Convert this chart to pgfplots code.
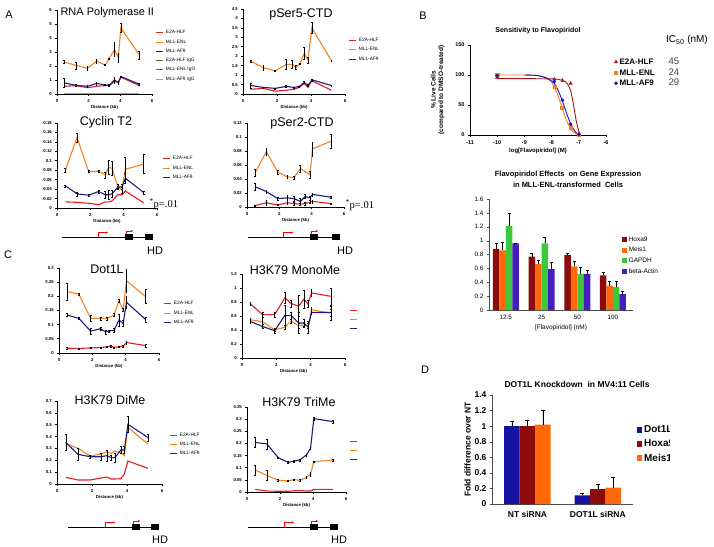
\documentclass[border=0pt]{standalone}
\usepackage{pgfplots}
\pgfplotsset{compat=1.18}
\usetikzlibrary{arrows.meta}
\usepackage{fontspec}
\setmainfont{Liberation Sans}
\newfontfamily\serif{Liberation Serif}

\definecolor{cR}{RGB}{232,28,36}
\definecolor{cO}{RGB}{242,132,36}
\definecolor{cB}{RGB}{30,30,130}
\definecolor{cIgA}{RGB}{120,80,40}
\definecolor{cIgB}{RGB}{140,70,150}
\definecolor{cIgC}{RGB}{70,200,220}
\definecolor{bHox}{RGB}{140,10,10}
\definecolor{bMeis}{RGB}{255,105,10}
\definecolor{bGap}{RGB}{60,200,60}
\definecolor{bAct}{RGB}{70,30,190}
\definecolor{dDot}{RGB}{20,20,160}
\definecolor{fR}{RGB}{170,20,20}
\definecolor{fO}{RGB}{245,125,40}
\definecolor{fB}{RGB}{20,20,200}

\newcommand{\tk}{\fontsize{4.3}{5}\selectfont\bfseries}
\pgfplotsset{
  base/.style={scale only axis, anchor=south west, clip=false,
    axis x line*=bottom, axis y line*=left,
    /pgf/number format/assume math mode=true,
    scaled y ticks=false, scaled x ticks=false},
  chip/.style={base,
    axis line style={line width=0.9pt},
    xmin=0, xmax=6, ymin=0, xtick={0,2,4,6},
    tick align=outside, major tick length=1.6pt,
    every tick/.style={black, line width=0.7pt},
    ticklabel style={font=\tk},
    yticklabel style={/pgf/number format/fixed, /pgf/number format/precision=3},
    xlabel={Distance (kb)},
    xlabel style={font=\tk, yshift=4pt},
    legend style={draw=none, fill=none, inner sep=0pt, outer sep=0pt,
      font=\fontsize{4.8}{5}\selectfont, anchor=north west, row sep=0.4pt,
      cells={anchor=west}},
    legend image code/.code={\draw[##1, line width=0.9pt] (0pt,0pt) -- (7pt,0pt);},
  },
  ln/.style={line width=1.1pt, mark=none},
  eb/.style={error bars/y dir=both, error bars/y explicit,
     error bars/error bar style={black, line width=0.45pt},
     error bars/error mark options={black, line width=0.45pt, rotate=90, mark size=0.9pt}},
}

\newcommand{\gene}[5]{%
  \draw[black, line width=0.5pt] (#2pt,-#1pt) -- (#5pt+8pt,-#1pt);
  \fill[black] (#4pt,-#1pt+3pt) rectangle (#4pt+8pt,-#1pt-3pt);
  \fill[black] (#5pt,-#1pt+3pt) rectangle (#5pt+8pt,-#1pt-3pt);
  \draw[red, line width=0.6pt, -{Stealth[length=2.2pt,width=2.2pt]}] (#3pt,-#1pt) -- (#3pt,-#1pt+4.5pt) -- (#3pt+10pt,-#1pt+4.5pt);
  \draw[red, line width=0.6pt, -{Stealth[length=2.2pt,width=2.2pt]}] (#4pt+1pt,-#1pt+3pt) -- (#4pt+1pt,-#1pt+6pt) -- (#4pt+8pt,-#1pt+6pt);
}
\newcommand{\icl}[2]{\makebox[49pt][l]{\fontsize{8}{8}\selectfont\bfseries #1}{\fontsize{9.5}{8}\selectfont\color{darkgray}#2}}

\begin{document}
\begin{tikzpicture}
\useasboundingbox (0,0) rectangle (714pt,-546pt);
\fill[white] (0,0) rectangle (714pt,-546pt);

% ---------------- A: RNA Polymerase II
\begin{axis}[chip, at={(57pt,-94pt)}, width=95pt, height=84pt, ymax=6, ytick={0,1,2,3,4,5,6},
  legend style={at={(1.042,0.78)}}]
\addplot[ln, cR] coordinates {(0.45,0.55) (1.2,0.6) (1.93,0.45) (2.5,0.55) (3.04,0.6) (3.3,0.6) (3.63,0.9) (3.88,0.85) (4.03,1.2) (5.2,0.6)};
\addplot[ln, cO, eb] coordinates {(0.45,2.28) +- (0,0.1) (1.2,2.05) +- (0,0.25) (1.93,1.84) +- (0,0.12) (2.5,2.35) +- (0,0.15) (3.04,2.07) +- (0,0.05) (3.3,2.54) +- (0,0.05) (3.63,3.18) +- (0,0.5) (3.88,2.6) +- (0,0.3) (4.03,4.73) +- (0,0.3) (5.2,2.78) +- (0,0.3)};
\addplot[ln, cB, eb] coordinates {(0.45,0.8) +- (0,0.3) (1.2,0.62) +- (0,0.05) (1.93,0.55) +- (0,0.05) (2.5,0.75) +- (0,0.12) (3.04,0.65) +- (0,0.05) (3.3,0.62) +- (0,0.05) (3.63,1.0) +- (0,0.2) (3.88,0.8) +- (0,0.1) (4.03,1.25) +- (0,0.05) (5.2,0.7) +- (0,0.1)};
\addplot[ln, cIgA] coordinates {(0.45,0.03) (1.2,0.03) (1.93,0.03) (2.5,0.03) (3.04,0.03) (3.3,0.03) (3.63,0.03) (3.88,0.03) (4.03,0.03) (5.2,0.03)};
\addplot[ln, cIgB] coordinates {(0.45,0.02) (1.2,0.02) (1.93,0.02) (2.5,0.02) (3.04,0.02) (3.3,0.02) (3.63,0.02) (3.88,0.02) (4.03,0.02) (5.2,0.02)};
\addplot[ln, cIgC] coordinates {(0.45,0.01) (1.2,0.01) (1.93,0.01) (2.5,0.01) (3.04,0.01) (3.3,0.01) (3.63,0.01) (3.88,0.01) (4.03,0.01) (5.2,0.01)};
\legend{E2A-HLF, MLL-ENL, MLL-AF9, E2A-HLF IgG, MLL-ENL IgG, MLL-AF9 IgG}
\end{axis}

% ---------------- A: pSer5-CTD
\begin{axis}[chip, at={(243pt,-94pt)}, width=102pt, height=85pt, ymax=4.5, ytick={0,0.5,1,1.5,2,2.5,3,3.5,4,4.5},
  legend style={at={(1.039,0.68)}}]
\addplot[ln, cR] coordinates {(0.45,0.25) (1.2,0.3) (1.9,0.15) (2.55,0.2) (3.0,0.25) (3.3,0.35) (3.6,0.55) (3.82,0.35) (4.05,0.7) (5.2,0.2)};
\addplot[ln, cO, eb] coordinates {(0.45,1.74) +- (0,0.05) (1.2,1.39) +- (0,0.12) (1.9,1.23) +- (0,0.05) (2.55,1.57) +- (0,0.25) (2.9,1.57) +- (0,0.2) (3.1,1.4) +- (0,0.1) (3.35,1.6) +- (0,0.05) (3.6,2.15) +- (0,0.3) (3.82,1.8) +- (0,0.15) (4.05,3.5) +- (0,0.3) (5.2,1.76) +- (0,0.05)};
\addplot[ln, cB, eb] coordinates {(0.45,0.45) +- (0,0.12) (1.2,0.35) +- (0,0.03) (1.9,0.3) +- (0,0.03) (2.55,0.4) +- (0,0.05) (3.0,0.35) +- (0,0.03) (3.3,0.4) +- (0,0.03) (3.6,0.6) +- (0,0.05) (3.82,0.45) +- (0,0.05) (4.05,0.75) +- (0,0.05) (5.2,0.45) +- (0,0.03)};
\legend{E2A-HLF, MLL-ENL, MLL-AF9}
\end{axis}

% ---------------- A: Cyclin T2
\begin{axis}[chip, at={(57pt,-208pt)}, width=100pt, height=85pt, ymax=0.18, ytick={0,0.02,0.04,0.06,0.08,0.1,0.12,0.14,0.16,0.18},
  legend style={at={(1.06,0.63)}}]
\addplot[ln, cR] coordinates {(0.5,0.013) (1.2,0.012) (1.9,0.010) (2.5,0.007) (2.9,0.013) (3.1,0.013) (3.3,0.015) (3.65,0.028) (3.9,0.028) (4.1,0.036) (5.2,0.011)};
\addplot[ln, cO, eb] coordinates {(0.5,0.080) +- (0,0.004) (1.2,0.149) +- (0,0.01) (1.9,0.077) +- (0,0.002) (2.5,0.078) +- (0,0.003) (2.9,0.070) +- (0,0.006) (3.1,0.087) +- (0,0.015) (3.3,0.084) +- (0,0.015) (3.65,0.045) +- (0,0.005) (3.9,0.038) +- (0,0.006) (4.1,0.082) +- (0,0.025) (5.2,0.093) +- (0,0.02)};
\addplot[ln, cB, eb] coordinates {(0.5,0.047) +- (0,0.002) (1.2,0.030) +- (0,0.004) (1.9,0.027) +- (0,0.002) (2.5,0.035) +- (0,0.003) (2.9,0.028) +- (0,0.008) (3.1,0.028) +- (0,0.01) (3.3,0.030) +- (0,0.008) (3.65,0.044) +- (0,0.003) (3.9,0.045) +- (0,0.005) (4.1,0.063) +- (0,0.01) (5.2,0.033) +- (0,0.003)};
\legend{E2A-HLF, MLL-ENL, MLL-AF9}
\end{axis}

% ---------------- A: pSer2-CTD
\begin{axis}[chip, at={(247pt,-207pt)}, width=97pt, height=84pt, ymax=0.12, ytick={0,0.02,0.04,0.06,0.08,0.1,0.12}]
\addplot[ln, cR, eb] coordinates {(0.5,0.002) +- (0,0.001) (1.2,0.006) +- (0,0.004) (1.9,0.003) +- (0,0.001) (2.5,0.006) +- (0,0.002) (2.9,0.005) +- (0,0.002) (3.3,0.004) +- (0,0.002) (3.6,0.005) +- (0,0.002) (3.9,0.007) +- (0,0.002) (4.05,0.008) +- (0,0.002) (5.2,0.005) +- (0,0.001)};
\addplot[ln, cO, eb] coordinates {(0.5,0.049) +- (0,0.005) (1.2,0.079) +- (0,0.005) (1.9,0.050) +- (0,0.003) (2.5,0.043) +- (0,0.002) (2.9,0.042) +- (0,0.002) (3.3,0.055) +- (0,0.005) (3.9,0.046) +- (0,0.005) (4.05,0.083) +- (0,0.01) (5.2,0.094) +- (0,0.01)};
\addplot[ln, cB, eb] coordinates {(0.5,0.029) +- (0,0.005) (1.2,0.022) +- (0,0.002) (1.9,0.012) +- (0,0.002) (2.5,0.013) +- (0,0.004) (2.9,0.012) +- (0,0.004) (3.3,0.008) +- (0,0.005) (3.6,0.015) +- (0,0.003) (3.9,0.013) +- (0,0.003) (4.05,0.018) +- (0,0.002) (5.2,0.014) +- (0,0.002)};
\end{axis}

% ---------------- C: Dot1L
\begin{axis}[chip, at={(59pt,-353pt)}, width=100pt, height=85pt, ymax=0.3, ytick={0,0.05,0.1,0.15,0.2,0.25,0.3},
  legend style={at={(1.05,0.63)}}]
\addplot[ln, cR, eb] coordinates {(0.5,0.017) +- (0,0.002) (1.2,0.016) +- (0,0.002) (1.9,0.018) +- (0,0.002) (2.5,0.019) +- (0,0.002) (2.9,0.022) +- (0,0.003) (3.1,0.025) +- (0,0.003) (3.3,0.02) +- (0,0.002) (3.6,0.022) +- (0,0.003) (3.85,0.024) +- (0,0.003) (4.05,0.037) +- (0,0.005) (5.2,0.026) +- (0,0.005)};
\addplot[ln, cO, eb] coordinates {(0.5,0.217) +- (0,0.03) (1.2,0.207) +- (0,0.003) (1.9,0.122) +- (0,0.01) (2.5,0.122) +- (0,0.005) (2.9,0.122) +- (0,0.005) (3.3,0.134) +- (0,0.005) (3.6,0.185) +- (0,0.005) (3.85,0.152) +- (0,0.005) (4.05,0.255) +- (0,0.04) (5.2,0.199) +- (0,0.025)};
\addplot[ln, cB, eb] coordinates {(0.5,0.134) +- (0,0.005) (1.2,0.122) +- (0,0.003) (1.9,0.077) +- (0,0.01) (2.5,0.086) +- (0,0.004) (2.8,0.074) +- (0,0.008) (3.0,0.078) +- (0,0.004) (3.3,0.080) +- (0,0.006) (3.6,0.116) +- (0,0.02) (3.85,0.104) +- (0,0.01) (4.05,0.179) +- (0,0.02) (5.2,0.118) +- (0,0.01)};
\legend{E2A-HLF, MLL-ENL, MLL-AF9}
\end{axis}

% ---------------- C: H3K79 MonoMe
\begin{axis}[chip, at={(242pt,-358pt)}, width=103pt, height=84pt, ymax=1.2, ytick={0,0.2,0.4,0.6,0.8,1,1.2},
  legend style={at={(1.049,0.62)}}]
\addplot[ln, cR, eb] coordinates {(0.5,0.77) +- (0,0.02) (1.2,0.62) +- (0,0.04) (1.9,0.62) +- (0,0.04) (2.5,0.86) +- (0,0.08) (2.85,0.78) +- (0,0.05) (3.3,0.74) +- (0,0.15) (3.6,0.84) +- (0,0.13) (3.85,0.77) +- (0,0.05) (4.05,0.93) +- (0,0.05) (5.2,0.88) +- (0,0.12)};
\addplot[ln, cO, eb] coordinates {(0.5,0.545) +- (0,0.03) (1.2,0.52) +- (0,0.1) (1.9,0.40) +- (0,0.02) (2.5,0.44) +- (0,0.03) (2.85,0.53) +- (0,0.03) (3.3,0.46) +- (0,0.03) (3.6,0.47) +- (0,0.03) (3.85,0.46) +- (0,0.03) (4.05,0.69) +- (0,0.03) (5.2,0.64) +- (0,0.1)};
\addplot[ln, cB, eb] coordinates {(0.5,0.52) +- (0,0.03) (1.2,0.45) +- (0,0.03) (1.9,0.39) +- (0,0.03) (2.5,0.61) +- (0,0.14) (2.85,0.61) +- (0,0.05) (3.3,0.50) +- (0,0.15) (3.6,0.50) +- (0,0.05) (3.85,0.44) +- (0,0.08) (4.05,0.65) +- (0,0.03) (5.2,0.65) +- (0,0.05)};
\legend{\phantom{E2A-HLF}, \phantom{MLL-ENL}, \phantom{MLL-AF9}}
\end{axis}

% ---------------- C: H3K79 DiMe
\begin{axis}[chip, at={(57pt,-484pt)}, width=105pt, height=83pt, ymax=0.7, ytick={0,0.1,0.2,0.3,0.4,0.5,0.6,0.7},
  legend style={at={(1.076,0.64)}}]
\addplot[ln, cR] coordinates {(0.5,0.056) (1.2,0.034) (1.9,0.034) (2.5,0.05) (2.85,0.059) (3.1,0.042) (3.3,0.042) (3.65,0.045) (3.85,0.084) (4.05,0.194) (5.2,0.132)};
\addplot[ln, cO] coordinates {(0.5,0.343) (1.2,0.30) (1.9,0.236) (2.5,0.253) (2.85,0.272) (3.1,0.258) (3.3,0.278) (3.65,0.264) (3.85,0.239) (4.05,0.478) (5.2,0.337)};
\addplot[ln, cB, eb] coordinates {(0.5,0.351) +- (0,0.07) (1.2,0.25) +- (0,0.05) (1.9,0.23) +- (0,0.01) (2.5,0.23) +- (0,0.03) (2.85,0.239) +- (0,0.05) (3.1,0.222) +- (0,0.02) (3.3,0.222) +- (0,0.04) (3.65,0.287) +- (0,0.03) (3.85,0.287) +- (0,0.03) (4.05,0.503) +- (0,0.07) (5.2,0.393) +- (0,0.03)};
\legend{E2A-HLF, MLL-ENL, MLL-AF9}
\end{axis}

% ---------------- C: H3K79 TriMe
\begin{axis}[chip, at={(247pt,-492pt)}, width=99pt, height=85pt, ymax=0.35, ytick={0,0.05,0.1,0.15,0.2,0.25,0.3,0.35},
  legend style={at={(1.04,0.65)}}]
\addplot[ln, cR] coordinates {(0.5,0.011) (1.2,0.004) (1.9,0.003) (2.5,0.003) (2.85,0.005) (3.2,0.006) (3.6,0.004) (3.85,0.004) (4.05,0.011) (5.2,0.011)};
\addplot[ln, cO, eb] coordinates {(0.5,0.09) +- (0,0.02) (1.2,0.069) +- (0,0.02) (1.9,0.048) +- (0,0.003) (2.5,0.046) +- (0,0.003) (2.85,0.051) +- (0,0.003) (3.2,0.048) +- (0,0.003) (3.6,0.06) +- (0,0.003) (3.85,0.073) +- (0,0.01) (4.05,0.125) +- (0,0.003) (5.2,0.132) +- (0,0.005)};
\addplot[ln, cB, eb] coordinates {(0.5,0.204) +- (0,0.02) (1.2,0.198) +- (0,0.02) (1.9,0.141) +- (0,0.003) (2.5,0.122) +- (0,0.005) (2.85,0.127) +- (0,0.003) (3.2,0.132) +- (0,0.005) (3.6,0.152) +- (0,0.003) (3.85,0.18) +- (0,0.003) (4.05,0.302) +- (0,0.005) (5.2,0.29) +- (0,0.005)};
\legend{\phantom{E2A-HLF}, \phantom{MLL-ENL}, \phantom{MLL-AF9}}
\end{axis}

% ---------------- B: dose response
\begin{axis}[base, at={(470pt,-135pt)}, width=136pt, height=90pt,
  xmin=-11, xmax=-6, ymin=0, ymax=150, xtick={-11,-10,-9,-8,-7,-6}, ytick={0,50,100,150},
  axis line style={line width=0.9pt}, tick align=outside, major tick length=2pt,
  every tick/.style={black, line width=0.7pt},
  ticklabel style={font=\fontsize{5.5}{6}\selectfont\bfseries},
  xlabel={log[Flavopiridol] (M)}, xlabel style={font=\fontsize{6}{7}\selectfont\bfseries, yshift=3pt},
  ylabel={\% Live Cells\\(compared to DMSO-treated)}, ylabel style={font=\fontsize{6.5}{7.5}\selectfont\bfseries, align=center, yshift=4pt},
  legend style={draw=none, fill=none, inner sep=0pt, at={(1.06,0.88)}, anchor=north west, row sep=-1.5pt, cells={anchor=west}}]
\addplot[only marks, mark=triangle*, fR, mark size=1.9pt] coordinates {(-10,96) (-7.9,93) (-7.6,91) (-7.3,86) (-7.0,2)};
\addplot[only marks, mark=square*, fO, mark size=1.6pt] coordinates {(-10,100) (-7.9,80) (-7.62,45) (-7.3,12) (-7.0,1)};
\addplot[only marks, mark=*, fB, mark size=1.6pt] coordinates {(-10,99) (-7.9,89) (-7.6,58) (-7.3,18) (-7.0,1)};
\addplot[fR, line width=0.9pt, smooth, forget plot] coordinates {(-10,94) (-9,94) (-8,93.5) (-7.8,93) (-7.6,91) (-7.5,89) (-7.4,84) (-7.3,74) (-7.2,52) (-7.1,25) (-7.0,6) (-6.95,1)};
\addplot[fO, line width=0.9pt, smooth, forget plot] coordinates {(-10,100) (-9,100) (-8.5,99) (-8.2,96) (-8.0,88) (-7.9,80) (-7.8,70) (-7.7,57) (-7.6,43) (-7.5,30) (-7.4,19) (-7.3,11) (-7.2,5) (-7.1,2) (-7.0,0)};
\addplot[fB, line width=0.9pt, smooth, forget plot] coordinates {(-9,100) (-8.5,99) (-8.2,95) (-8.0,90) (-7.9,86) (-7.8,78) (-7.7,68) (-7.6,56) (-7.5,43) (-7.4,30) (-7.3,19) (-7.2,10) (-7.1,4) (-7.0,1)};
\addlegendentry{\icl{E2A-HLF}{45}}
\addlegendentry{\icl{MLL-ENL}{24}}
\addlegendentry{\icl{MLL-AF9}{29}}
\end{axis}

% ---------------- B: gene expression bars
\begin{axis}[base, at={(489pt,-310pt)}, width=144pt, height=111pt, ybar=0pt, bar width=6.5pt,
  xmin=0.53, xmax=4.56, ymin=0, ymax=1.6, ytick={0,0.2,0.4,0.6,0.8,1,1.2,1.4,1.6},
  xtick={1,2,3,4}, xticklabels={12.5,25,50,100},
  axis line style={black!70, line width=0.6pt}, tick align=outside, major tick length=2pt,
  ytick style={black!70}, xtick style={draw=none},
  ticklabel style={font=\fontsize{6.3}{7}\selectfont},
  yticklabel style={/pgf/number format/fixed},
  xlabel={[Flavopiridol] (nM)}, xlabel style={font=\fontsize{6.5}{7}\selectfont, yshift=2pt},
  legend style={draw=none, fill=none, inner sep=0pt, at={(0.924,0.68)}, anchor=north west, row sep=0.5pt,
    font=\fontsize{6.5}{7}\selectfont, cells={anchor=west}},
  legend image code/.code={\fill[#1] (0pt,-2.2pt) rectangle (4.5pt,2.6pt);},
  every axis plot/.append style={draw=none, error bars/y dir=plus, error bars/y explicit,
     error bars/error bar style={black, line width=0.5pt},
     error bars/error mark options={black, line width=0.5pt, rotate=90, mark size=1.5pt}}]
\addplot[fill=bHox] coordinates {(1,0.88) +- (0,0.08) (2,0.77) +- (0,0.05) (3,0.79) +- (0,0.03) (4,0.50) +- (0,0.05)};
\addplot[fill=bMeis] coordinates {(1,0.86) +- (0,0.12) (2,0.66) +- (0,0.06) (3,0.63) +- (0,0.07) (4,0.35) +- (0,0.07)};
\addplot[fill=bGap] coordinates {(1,1.21) +- (0,0.18) (2,0.96) +- (0,0.09) (3,0.52) +- (0,0.10) (4,0.33) +- (0,0.09)};
\addplot[fill=bAct] coordinates {(1,0.96) +- (0,0.005) (2,0.59) +- (0,0.10) (3,0.52) +- (0,0.05) (4,0.23) +- (0,0.04)};
\legend{Hoxa9, Meis1, GAPDH, beta-Actin}
\end{axis}

% ---------------- D: DOT1L knockdown
\begin{axis}[base, at={(492pt,-504pt)}, width=141pt, height=109pt, ybar=0pt, bar width=15.5pt,
  xmin=0.496, xmax=2.5, ymin=0, ymax=1.4, ytick={0,0.2,0.4,0.6,0.8,1,1.2,1.4},
  xtick={1,2}, xticklabels={NT siRNA, DOT1L siRNA},
  axis line style={black!70, line width=0.6pt}, tick align=outside, major tick length=2pt,
  ytick style={black!70}, xtick style={draw=none},
  ticklabel style={font=\fontsize{8.5}{9}\selectfont\bfseries},
  yticklabel style={/pgf/number format/fixed},
  xticklabel style={yshift=-2pt},
  ylabel={Fold difference over NT}, ylabel style={font=\fontsize{8.5}{9}\selectfont\bfseries, yshift=-3pt},
  legend style={draw=none, fill=none, inner sep=0pt, at={(1.028,0.735)}, anchor=north west, row sep=1.5pt,
    font=\fontsize{10}{10}\selectfont\bfseries, cells={anchor=west}},
  legend image code/.code={\fill[#1] (0pt,-3pt) rectangle (5pt,3.5pt);},
  every axis plot/.append style={draw=none, error bars/y dir=plus, error bars/y explicit,
     error bars/error bar style={black, line width=0.5pt},
     error bars/error mark options={black, line width=0.5pt, rotate=90, mark size=2pt}}]
\addplot[fill=dDot] coordinates {(1,1.0) +- (0,0.06) (2,0.11) +- (0,0.03)};
\addplot[fill=bHox] coordinates {(1,1.0) +- (0,0.07) (2,0.19) +- (0,0.06)};
\addplot[fill=bMeis] coordinates {(1,1.02) +- (0,0.18) (2,0.21) +- (0,0.13)};
\legend{Dot1L, Hoxa9, Meis1}
\end{axis}
\fill[white] (670pt,-418pt) rectangle (714pt,-468pt);

% ---------------- titles and labels
\node[font=\fontsize{11}{12}\selectfont, anchor=west] at (57pt,-13pt) {RNA Polymerase II};
\node[font=\fontsize{12.5}{13}\selectfont] at (301pt,-14pt) {pSer5-CTD};
\node[font=\fontsize{12.5}{13}\selectfont] at (106pt,-122pt) {Cyclin T2};
\node[font=\fontsize{12.5}{13}\selectfont] at (302pt,-123pt) {pSer2-CTD};
\node[font=\fontsize{12.5}{13}\selectfont] at (107pt,-269pt) {Dot1L};
\node[font=\fontsize{12.5}{13}\selectfont] at (295pt,-270pt) {H3K79 MonoMe};
\node[font=\fontsize{12.5}{13}\selectfont] at (110pt,-400pt) {H3K79 DiMe};
\node[font=\fontsize{12.5}{13}\selectfont] at (299pt,-402pt) {H3K79 TriMe};

\node[font=\fontsize{10.5}{11}\selectfont\serif, anchor=west] at (146pt,-204pt) {\textsuperscript{*}p=.01};
\node[font=\fontsize{10.5}{11}\selectfont\serif, anchor=west] at (342pt,-205pt) {\textsuperscript{*}p=.01};

\node[font=\fontsize{11}{12}\selectfont] at (9pt,-15pt) {A};
\node[font=\fontsize{11}{12}\selectfont] at (423pt,-16pt) {B};
\node[font=\fontsize{11}{12}\selectfont] at (8pt,-255pt) {C};
\node[font=\fontsize{11}{12}\selectfont] at (425pt,-370pt) {D};

\node[font=\fontsize{7}{8}\selectfont\bfseries] at (538pt,-31pt) {Sensitivity to Flavopiridol};
\node[font=\fontsize{10}{11}\selectfont] at (687pt,-40pt) {IC\textsubscript{50} (nM)};
\node[font=\fontsize{7.5}{11}\selectfont\bfseries, align=center] at (568pt,-179pt) {Flavopiridol Effects\ \ on Gene Expression\\in MLL-ENL-transformed\ \ Cells};
\node[font=\fontsize{8.5}{9}\selectfont\bfseries] at (577pt,-384pt) {DOT1L Knockdown\ \ in MV4:11 Cells};

% gene diagrams
\gene{237}{62}{98}{125}{145}
\gene{237}{248}{283}{310}{332}
\gene{527}{68}{105}{132}{151}
\gene{527}{248}{284}{310}{330}
\node[font=\fontsize{11}{12}\selectfont] at (155pt,-251pt) {HD};
\node[font=\fontsize{11}{12}\selectfont] at (345pt,-251pt) {HD};
\node[font=\fontsize{11}{12}\selectfont] at (160pt,-540pt) {HD};
\node[font=\fontsize{11}{12}\selectfont] at (339pt,-540pt) {HD};
\end{tikzpicture}
\end{document}
